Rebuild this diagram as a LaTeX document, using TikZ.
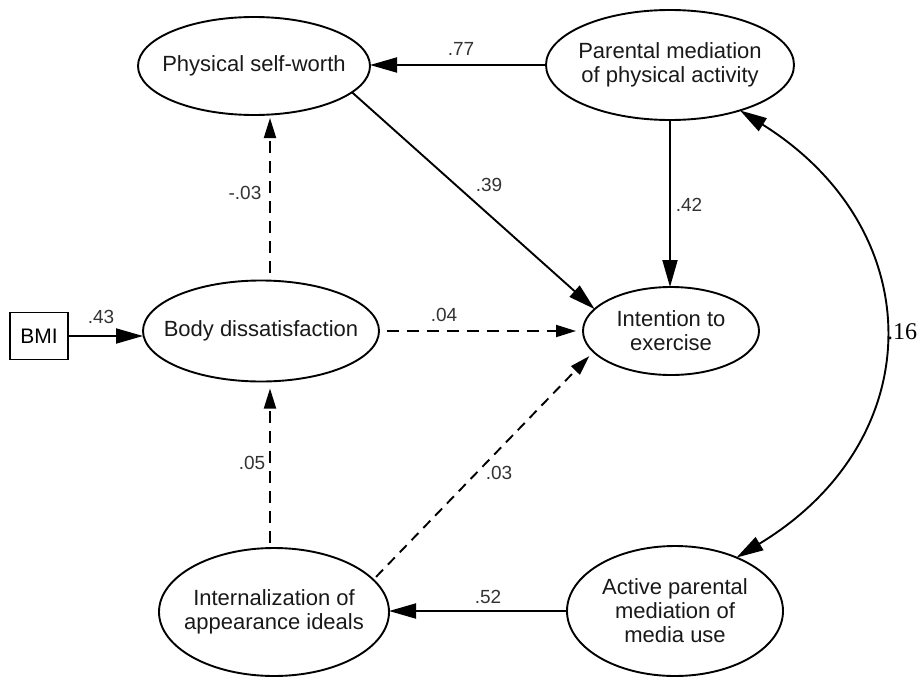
\documentclass[tikz,border=0pt]{standalone}
\usepackage{fontspec}
\setmainfont{Liberation Sans}
\newfontfamily\serifnum{Liberation Serif}
\usetikzlibrary{arrows.meta,shapes.geometric}
\begin{document}
\begin{tikzpicture}[x=1pt,y=-1pt,
  latent/.style={draw, ellipse, line width=1.9pt, inner sep=0pt, outer sep=0pt},
  observed/.style={draw, rectangle, line width=1.9pt, inner sep=0pt, outer sep=0pt,
    minimum width=58pt, minimum height=47pt, font=\fontsize{21}{23}\selectfont},
  nametext/.style={font=\fontsize{22}{24}\selectfont, align=center, inner sep=0pt, text=black!90},
  coef/.style={font=\fontsize{19}{21}\selectfont, text=black!80, inner sep=0pt},
  sigpath/.style={line width=1.9pt, -{Triangle[length=27pt,width=15pt]}},
  nspath/.style={line width=1.9pt, dash pattern=on 12pt off 8pt, -{Triangle[length=20pt,width=12pt]}},
]
\useasboundingbox (0,0) rectangle (920,677);

% latent variables
\node[latent, minimum width=232pt, minimum height=98pt]  (psw)  at (254,66)  {};
\node[latent, minimum width=248pt, minimum height=110pt] (pmpa) at (670,65)  {};
\node[latent, minimum width=176pt, minimum height=88pt]  (ite)  at (671,331) {};
\node[latent, minimum width=236pt, minimum height=101pt] (bd)   at (261,331) {};
\node[latent, minimum width=230pt, minimum height=128pt] (iai)  at (274,612) {};
\node[latent, minimum width=216pt, minimum height=130pt] (apm)  at (675,611) {};

\node[nametext] (psw-t)  at (psw)  {Physical self-worth};
\node[nametext] (pmpa-t) at (pmpa) {Parental mediation\\of physical activity};
\node[nametext] (ite-t)  at (ite)  {Intention to\\exercise};
\node[nametext] (bd-t)   at (bd)   {Body dissatisfaction};
\node[nametext] (iai-t)  at (iai)  {Internalization of\\appearance ideals};
\node[nametext] (apm-t)  at (apm)  {Active parental\\mediation of\\media use};

% observed variable
\node[observed] (bmi) at (39,336) {BMI};

% paths
\coordinate (vx) at (270,0);
\draw[sigpath] (bmi.east) -- (bmi.east -| bd.west);
\draw[nspath, shorten <=8pt, shorten >=3pt] (vx |- bd.north) -- (vx |- psw.south);
\draw[nspath, shorten <=5pt, shorten >=7pt] (vx |- iai.north) -- (vx |- bd.south);
\draw[nspath, shorten <=8pt, shorten >=7pt] (bd.east) -- (bd.east -| ite.west);
\draw[sigpath] (psw.-15) -- (ite.164);
\draw[sigpath] (pmpa.south) -- (pmpa.south |- ite.north);
\draw[sigpath] (pmpa.west) -- (pmpa.west -| psw.east);
\draw[nspath, dash pattern=on 10pt off 7pt, shorten <=4pt, shorten >=6pt] (iai.18) -- (ite.195);
\draw[sigpath] (apm.west) -- (apm.west -| iai.east);

% covariance
\draw[line width=1.9pt, {Triangle[length=27pt,width=15pt]}-{Triangle[length=27pt,width=15pt]}]
  (pmpa.-33) .. controls (931,230) and (931,440) .. (apm.41);

% coefficients
\node[coef] (c77) at (461,49)  {.77};
\node[coef] (c39) at (489,185) {.39};
\node[coef] (c42) at (689,205) {.42};
\node[coef] (c03a) at (245,193) {-.03};
\node[coef] (c43) at (101,317) {.43};
\node[coef] (c04) at (444,315) {.04};
\node[coef] (c05) at (252,463) {.05};
\node[coef] (c03b) at (499,473) {.03};
\node[coef] (c52) at (488,597) {.52};
\node[font=\serifnum\fontsize{24}{26}\selectfont, inner sep=0pt] (c16) at (902,332) {.16};
\end{tikzpicture}
\end{document}
